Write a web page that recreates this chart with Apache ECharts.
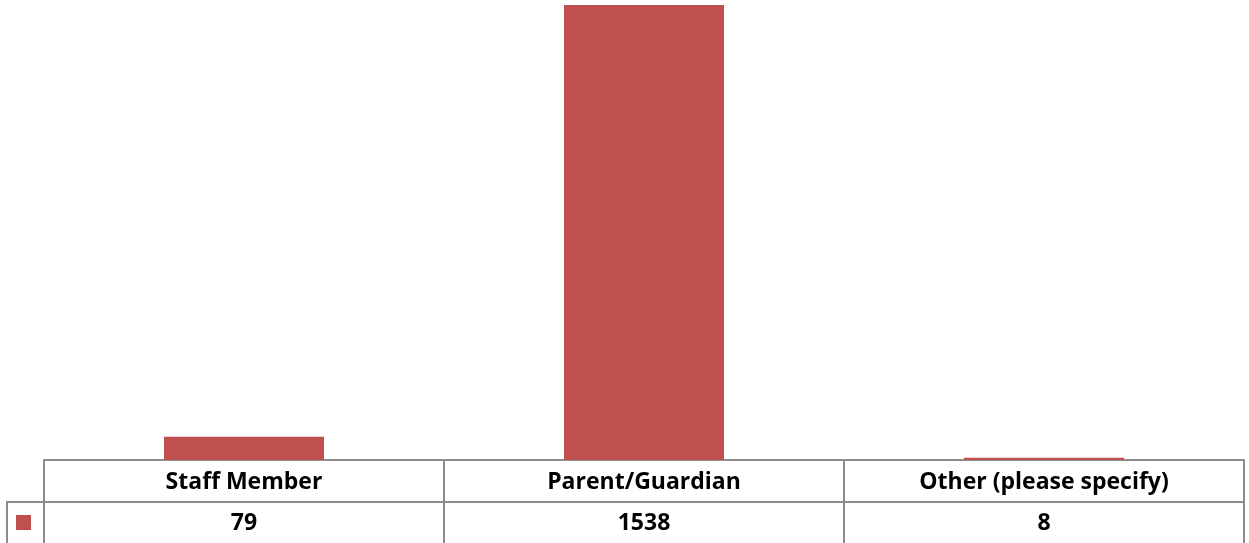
<!DOCTYPE html>
<html>
<head>
<meta charset="utf-8">
<script src="https://cdn.jsdelivr.net/npm/echarts@6/dist/echarts.min.js"></script>
<style>
  html, body { margin: 0; padding: 0; background: #fff; }
  #chart { width: 1249px; height: 543px; }
</style>
</head>
<body>
<div id="chart"></div>
<script>
// data
var categories = ['Staff Member', 'Parent/Guardian', 'Other (please specify)'];
var counts = [79, 1538, 8];

var lineColor = '#8c8c8c';
var barColor = '#c0504d';
var font = '"Open Sans", "DejaVu Sans", sans-serif';

var chart = echarts.init(document.getElementById('chart'));
chart.setOption({
  animation: false,
  grid: { left: 44, right: 5, top: 5, bottom: 83 },
  legend: {
    data: ['Count'],
    left: 16, top: 515, padding: 0,
    icon: 'rect', itemWidth: 15, itemHeight: 15,
    formatter: function () { return ''; },
    selectedMode: false
  },
  xAxis: [
    {
      type: 'category',
      data: categories,
      position: 'bottom',
      axisLine: { lineStyle: { color: lineColor, width: 2 } },
      axisTick: { show: true, length: 83, lineStyle: { color: lineColor, width: 2 } },
      axisLabel: {
        margin: 22, verticalAlign: 'middle',
        color: '#000', fontFamily: font, fontWeight: 'bold', fontSize: 23
      }
    },
    {
      type: 'category',
      data: counts.map(String),
      position: 'bottom',
      offset: 42,
      axisLine: { lineStyle: { color: lineColor, width: 2 } },
      axisTick: { show: false },
      axisLabel: {
        margin: 21, verticalAlign: 'middle',
        color: '#000', fontFamily: font, fontWeight: 'bold', fontSize: 23
      }
    }
  ],
  yAxis: {
    type: 'value', min: 0, max: 'dataMax',
    show: false, splitLine: { show: false }
  },
  graphic: [{
    type: 'polyline',
    shape: { points: [[7, 545], [7, 502], [45, 502]] },
    style: { stroke: lineColor, lineWidth: 2, fill: null }
  }],
  series: [{
    name: 'Count',
    type: 'bar',
    data: counts,
    barWidth: '40%',
    itemStyle: { color: barColor }
  }]
});
</script>
</body>
</html>
